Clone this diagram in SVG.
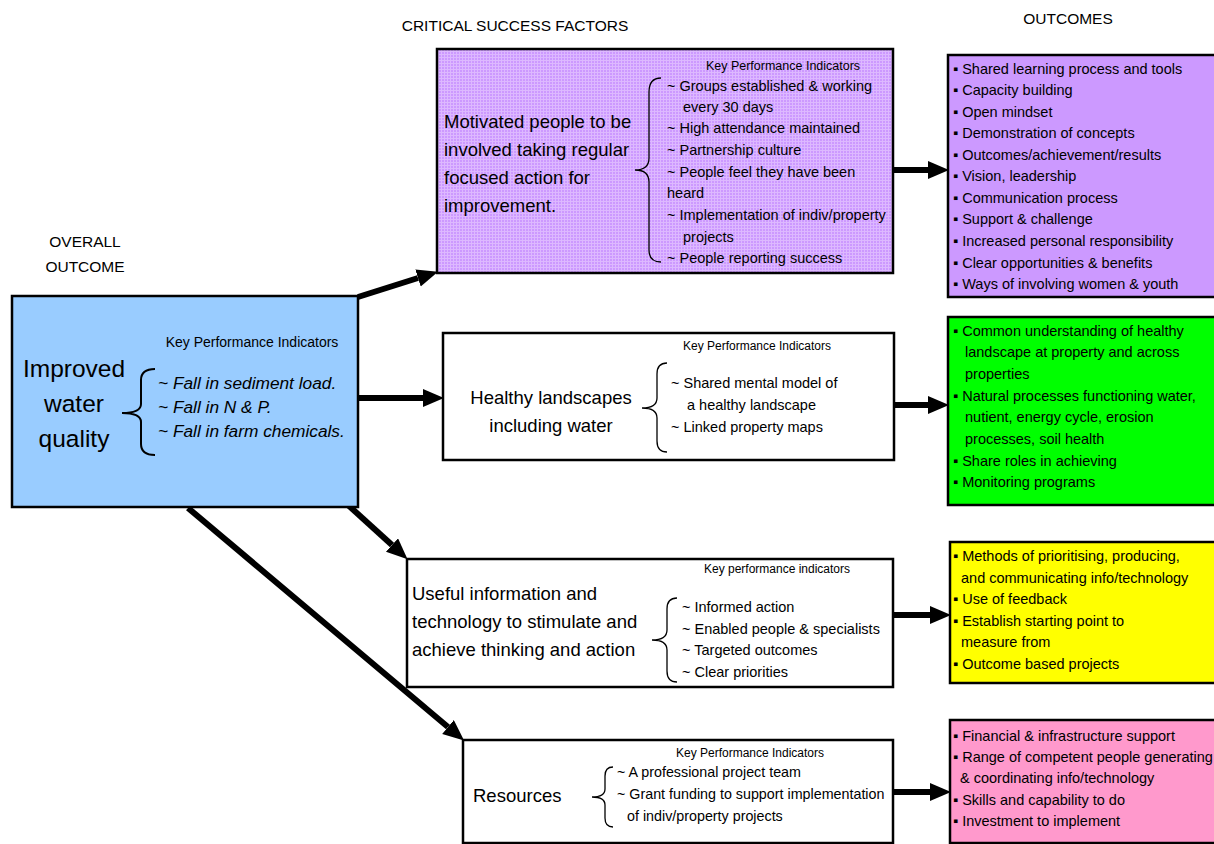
<svg xmlns="http://www.w3.org/2000/svg" width="1214" height="844" viewBox="0 0 1214 844">
<style>
text{font-family:"Liberation Sans",Arial,sans-serif;fill:#000}
.hdr{font-size:15.5px}
.big{font-size:18.5px}
.kpi{font-size:12.5px}
.it{font-size:14.5px}
.out{font-size:14.5px}
.box{stroke:#000;stroke-width:2.5}
.brace{fill:none;stroke:#000;stroke-width:1.3}
.conn{stroke:#000;stroke-width:6;fill:none;marker-end:url(#ah)}
</style>
<defs>
<marker id="ah" markerUnits="userSpaceOnUse" markerWidth="22" markerHeight="20" refX="0" refY="9" orient="auto">
<path d="M0,0 L21,9 L0,18 z" fill="#000"/>
</marker>
<pattern id="grid" width="3" height="3" patternUnits="userSpaceOnUse">
<rect width="3" height="3" fill="#CC99FF"/>
<path d="M0,0.5H3M0.5,0V3" stroke="#DDB8FF" stroke-width="1"/>
</pattern>
</defs>

<g id="headers">
<text class="hdr" x="515" y="31" text-anchor="middle">CRITICAL SUCCESS FACTORS</text>
<text class="hdr" x="1068" y="24" text-anchor="middle">OUTCOMES</text>
<text class="hdr" x="85" y="247" text-anchor="middle">OVERALL</text>
<text class="hdr" x="85" y="272" text-anchor="middle">OUTCOME</text>
</g>

<g id="connectors">
<path class="conn" d="M358,297 L418,278"/>
<path class="conn" d="M358,398 L423,398"/>
<path class="conn" d="M348,505 L392,545"/>
<path class="conn" d="M188,508 L448,727"/>
<path class="conn" d="M893,170 L928,170"/>
<path class="conn" d="M894,405 L928,405"/>
<path class="conn" d="M893,615 L930,615"/>
<path class="conn" d="M893,792 L930,792"/>
</g>

<g id="overall">
<rect class="box" x="12" y="296" width="346" height="211" fill="#99CCFF"/>
<text class="big" x="74" y="377" text-anchor="middle" style="font-size:24.5px">Improved</text>
<text class="big" x="74" y="412" text-anchor="middle" style="font-size:24.5px">water</text>
<text class="big" x="74" y="447" text-anchor="middle" style="font-size:24.5px">quality</text>
<text class="kpi" x="252" y="347" text-anchor="middle" style="font-size:14px">Key Performance Indicators</text>
<path class="brace" d="M155,369 Q141,369 141,380 L141,404 Q141,413 122,413 Q141,413 141,422 L141,444 Q141,455 155,455" style="stroke-width:2"/>
<text class="it" x="158" y="389" style="font-size:17.3px;font-style:italic">~ Fall in sediment load.</text>
<text class="it" x="158" y="413" style="font-size:17.3px;font-style:italic">~ Fall in N &amp; P.</text>
<text class="it" x="158" y="437" style="font-size:17.3px;font-style:italic">~ Fall in farm chemicals.</text>
</g>

<g id="csf-motivated">
<rect class="box" x="437" y="49" width="456" height="224" fill="url(#grid)"/>
<text class="big" x="444" y="128">Motivated people to be</text>
<text class="big" x="444" y="156">involved taking regular</text>
<text class="big" x="444" y="184">focused action for</text>
<text class="big" x="444" y="212">improvement.</text>
<text class="kpi" x="783" y="70" text-anchor="middle">Key Performance Indicators</text>
<path class="brace" d="M661,78 Q649,78 649,92 L649,158 Q649,170 635,170 Q649,170 649,182 L649,250 Q649,262 661,262"/>
<text class="it" x="667" y="91">~ Groups established &amp; working</text>
<text class="it" x="683" y="112">every 30 days</text>
<text class="it" x="667" y="133">~ High attendance maintained</text>
<text class="it" x="667" y="155">~ Partnership culture</text>
<text class="it" x="667" y="177">~ People feel they have been</text>
<text class="it" x="667" y="198">heard</text>
<text class="it" x="667" y="220">~ Implementation of indiv/property</text>
<text class="it" x="683" y="242">projects</text>
<text class="it" x="667" y="263">~ People reporting success</text>
</g>

<g id="csf-healthy">
<rect class="box" x="443" y="333" width="451" height="127" fill="#FFFFFF"/>
<text class="big" x="551" y="404" text-anchor="middle">Healthy landscapes</text>
<text class="big" x="551" y="432" text-anchor="middle">including water</text>
<text class="kpi" x="757" y="350" text-anchor="middle" style="font-size:12px">Key Performance Indicators</text>
<path class="brace" d="M667,363 Q657,363 657,374 L657,398 Q657,408 642,408 Q657,408 657,418 L657,441 Q657,452 667,452"/>
<text class="it" x="671" y="388">~ Shared mental model of</text>
<text class="it" x="687" y="410">a healthy landscape</text>
<text class="it" x="671" y="432">~ Linked property maps</text>
</g>

<g id="csf-useful">
<rect class="box" x="407" y="559" width="486" height="128" fill="#FFFFFF"/>
<text class="big" x="412" y="600">Useful information and</text>
<text class="big" x="412" y="628">technology to stimulate and</text>
<text class="big" x="412" y="656">achieve thinking and action</text>
<text class="kpi" x="777" y="573" text-anchor="middle" style="font-size:12px">Key performance indicators</text>
<path class="brace" d="M677,598 Q667,598 667,609 L667,630 Q667,640 652,640 Q667,640 667,650 L667,671 Q667,682 677,682"/>
<text class="it" x="682" y="612">~ Informed action</text>
<text class="it" x="682" y="634">~ Enabled people &amp; specialists</text>
<text class="it" x="682" y="655">~ Targeted outcomes</text>
<text class="it" x="682" y="677">~ Clear priorities</text>
</g>

<g id="csf-resources">
<rect class="box" x="463" y="740" width="430" height="103" fill="#FFFFFF"/>
<text class="big" x="473" y="802">Resources</text>
<text class="kpi" x="750" y="757" text-anchor="middle" style="font-size:12px">Key Performance Indicators</text>
<path class="brace" d="M613,767 Q605,767 605,776 L605,789 Q605,797 592,797 Q605,797 605,805 L605,818 Q605,827 613,827"/>
<text class="it" x="617" y="777" style="font-size:14.3px">~ A professional project team</text>
<text class="it" x="617" y="799" style="font-size:14.3px">~ Grant funding to support implementation</text>
<text class="it" x="627" y="821" style="font-size:14.3px">of indiv/property projects</text>
</g>

<g id="out-motivated">
<rect class="box" x="948" y="55" width="280" height="242" fill="#CC99FF"/>
<text class="out" x="953" y="74">▪ Shared learning process and tools</text>
<text class="out" x="953" y="95">▪ Capacity building</text>
<text class="out" x="953" y="117">▪ Open mindset</text>
<text class="out" x="953" y="138">▪ Demonstration of concepts</text>
<text class="out" x="953" y="160">▪ Outcomes/achievement/results</text>
<text class="out" x="953" y="181">▪ Vision, leadership</text>
<text class="out" x="953" y="203">▪ Communication process</text>
<text class="out" x="953" y="224">▪ Support &amp; challenge</text>
<text class="out" x="953" y="246">▪ Increased personal responsibility</text>
<text class="out" x="953" y="268">▪ Clear opportunities &amp; benefits</text>
<text class="out" x="953" y="289">▪ Ways of involving women &amp; youth</text>
</g>

<g id="out-healthy">
<rect class="box" x="948" y="317" width="280" height="188" fill="#00FF00"/>
<text class="out" x="953" y="336">▪ Common understanding of healthy</text>
<text class="out" x="965" y="357">landscape at property and across</text>
<text class="out" x="965" y="379">properties</text>
<text class="out" x="953" y="401">▪  Natural processes functioning water,</text>
<text class="out" x="965" y="422">nutient, energy cycle, erosion</text>
<text class="out" x="965" y="444">processes, soil health</text>
<text class="out" x="953" y="466">▪  Share roles in achieving</text>
<text class="out" x="953" y="487">▪  Monitoring programs</text>
</g>

<g id="out-useful">
<rect class="box" x="950" y="542" width="280" height="141" fill="#FFFF00"/>
<text class="out" x="953" y="561">▪ Methods of prioritising, producing,</text>
<text class="out" x="961" y="583">and communicating info/technology</text>
<text class="out" x="953" y="604">▪ Use of feedback</text>
<text class="out" x="953" y="626">▪ Establish starting point to</text>
<text class="out" x="961" y="647">measure from</text>
<text class="out" x="953" y="669">▪ Outcome based projects</text>
</g>

<g id="out-resources">
<rect class="box" x="950" y="720" width="280" height="123" fill="#FF99CC"/>
<text class="out" x="953" y="741">▪ Financial &amp; infrastructure support</text>
<text class="out" x="953" y="762">▪ Range of competent people generating</text>
<text class="out" x="960" y="783">&amp; coordinating info/technology</text>
<text class="out" x="953" y="805">▪ Skills and capability to do</text>
<text class="out" x="953" y="826">▪ Investment to implement</text>
</g>
</svg>
